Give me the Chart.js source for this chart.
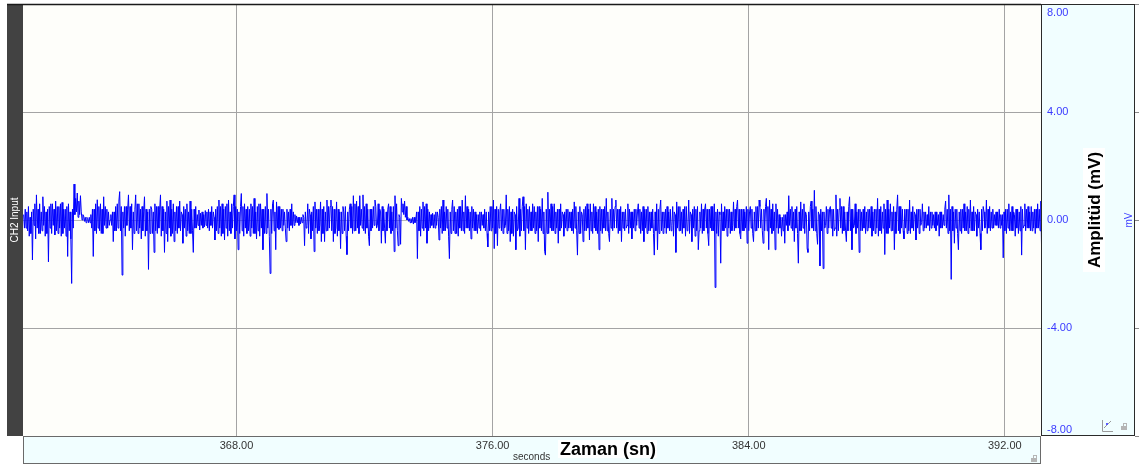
<!DOCTYPE html>
<html>
<head>
<meta charset="utf-8">
<script src="https://cdn.jsdelivr.net/npm/chart.js"></script>
<style>
    html, body {
        margin: 0;
        padding: 0;
        background: #ffffff;
    }
    #wrap {
        width: 1146px;
        height: 465px;
    }
</style>
</head>
<body>
<div id="wrap">
    <canvas id="emgChart" width="1146" height="465"></canvas>
</div>
<script>
// Time axis (seconds) and amplitude axis (mV) ticks
const timeTicks = [368, 376, 384, 392];
const ampTicks = [-8, -4, 0, 4, 8];
const timeRange = [361.33, 393.13];
const ampRange = [-8, 8];

const startTime = 361.35;
const sampleStep = 0.025;
const samples = [
    0.2,-0.3,0.4,-0.3, 0.3,-0.4,0.5,-0.6, 0.1,-0.5,0.3,-1.48, 0.4,-0.2,0.6,-0.7, 0.93,-0.3,0.4,-0.5, 0.6,-0.5,0.3,-0.4, 0.86,-0.2,0.5,-0.6, 0.3,-0.5,0.4,-1.55, 0.5,-0.3,0.6,-0.5, 0.6,-0.2,0.4,-0.55,
    0.7,-0.4,0.5,-0.5, 0.5,-0.3,0.6,-0.6, 0.65,-0.5,0.4,-0.3, 0.4,-0.6,0.5,-1.35, 0.6,-0.4,0.3,-0.7, -2.35,0.4,-0.3,1.33, 0.2,0.8,0.3,1.0, 0.1,0.7,0.2,0.9, 0.3,0.0,0.2,0.15, -0.05,0.1,-0.1,0.1,
    0.05,-0.1,0.1,-0.1, 0.2,-0.3,0.4,-1.35, 0.4,-0.4,0.6,-0.5, 0.75,-0.3,0.5,-0.4, 0.6,-0.5,0.4,-0.5, 0.86,-0.2,0.5,-0.3, 0.4,-0.3,0.3,-0.2, 0.0,0.2,-0.2,0.3, -0.8,0.3,-0.4,0.5, -0.4,0.6,-0.3,0.7,
    1.05,-0.4,0.5,-2.04, 0.3,-0.3,0.5,-0.6, 0.5,-0.2,0.4,0.93, -0.4,0.5,-0.3,0.6, -1.1,0.3,-0.5,0.4, 0.93,-0.4,0.6,-0.5, 0.6,-0.3,0.4,-0.7, 0.5,-0.4,0.3,0.86, -0.6,0.4,-0.4,0.3, -1.83,0.4,-0.5,0.5,
    0.4,-0.5,0.3,-1.2, 0.6,-0.4,0.5,-0.5, 0.5,-0.3,0.4,0.93, -0.6,0.5,-0.4,0.4, -1.2,0.3,-0.5,0.7, -0.8,0.5,-0.3,0.74, -0.6,0.4,-0.5,0.6, -0.8,0.3,-0.4,0.5, -0.5,0.5,-0.3,0.7, -0.4,0.3,0.2,-0.86,
    0.5,-0.3,0.4,-0.6, 0.6,-0.4,0.3,-0.5, 0.7,-0.5,0.4,-0.4, -1.2,0.4,-0.3,0.5, -0.3,0.2,-0.2,0.37, -0.37,0.25,-0.2,0.3, -0.3,0.2,-0.25,0.35, -0.2,0.3,-0.3,0.4, -0.4,0.3,-0.2,0.5, -0.3,0.3,0.1,-0.74,
    0.4,-0.4,0.5,-0.5, 0.74,-0.3,0.5,-0.6, 0.6,-0.5,0.4,-0.74, 0.5,-0.3,0.6,-0.6, 0.74,-0.4,0.3,-0.5, 0.6,-0.3,0.5,0.93, -0.7,0.5,-0.4,0.4, -1.1,0.3,-0.5,0.5, 0.98,-0.4,0.5,-0.6, 0.6,-0.3,0.4,-0.5,
    0.5,-0.4,0.4,-0.6, 0.6,-0.3,0.5,-0.5, 0.8,-0.5,0.3,-0.7, 0.5,-0.4,0.6,-0.6, 0.6,-0.3,0.4,-1.1, 0.4,-0.5,0.5,-0.5, 0.98,-0.3,0.4,-0.6, -1.98,0.4,-0.5,0.6, 0.74,-0.4,0.3,-1.1, 0.67,-0.3,0.5,-0.35,
    0.5,-0.3,0.4,-0.4, 0.4,-0.2,0.3,-0.3, -0.8,0.4,-0.3,0.3, -0.4,0.4,-0.2,0.6, -0.3,0.3,-0.2,0.2, -0.1,0.15,-0.1,0.1, -0.2,0.1,-0.15,0.1, -0.1,0.2,0.1,-0.95, 0.3,-0.3,-0.2,0.6, -0.5,0.4,0.2,-0.7,
    0.3,-0.4,0.5,-1.17, 0.67,-0.3,0.4,-0.5, 0.4,-0.4,-0.2,0.67, -0.8,0.4,-0.5,0.5, -0.8,0.3,-0.4,0.74, -0.4,0.5,-0.3,0.5, 0.74,-0.4,0.5,-0.8, 0.4,-0.5,-0.3,0.67, -0.6,0.4,-0.4,0.3, -1.06,0.3,-0.5,0.5,
    0.3,-0.4,0.5,-0.6, -1.28,0.3,-0.4,0.4, 0.6,-0.3,0.5,-0.5, 0.9,-0.4,0.6,-0.4, 0.7,-0.3,0.5,-0.5, 0.9,-0.2,0.4,-0.3, 0.93,-0.4,0.5,-0.5, 0.6,-0.3,0.4,-0.6, -0.95,0.4,-0.4,0.4, -0.3,0.5,-0.2,0.74,
    0.5,-0.3,-0.2,0.6, -0.4,0.4,0.3,-0.86, 0.5,-0.4,0.4,-0.3, -0.86,0.3,-0.4,0.4, 0.6,-0.3,0.5,-0.5, 0.3,-0.4,0.5,-1.17, 0.9,-0.3,0.6,-0.4, -0.95,0.2,0.1,-0.9, 0.8,0.3,0.6,0.2, 0.7,0.1,0.5,0.0,
    0.1,-0.05,0.05,-0.1, 0.05,-0.1,0.1,-0.15, 0.1,-0.1,0.0,0.3, -1.43,0.3,-0.4,0.5, -0.6,0.4,-0.3,0.67, -0.4,0.5,-0.3,0.6, -0.86,0.4,-0.4,0.3, -0.3,0.2,-0.2,0.25, -0.3,0.2,-0.3,0.3, -0.2,0.3,0.1,-0.74,
    0.4,-0.3,0.5,-0.5, 0.74,-0.4,0.3,-0.4, 0.5,-0.3,0.4,-0.6, -1.43,0.3,-0.5,0.4, 0.74,-0.4,0.5,-0.5, 0.3,-0.5,0.4,-0.6, 0.5,-0.3,0.5,-0.4, 0.74,-0.4,0.3,-0.5, 0.9,-0.3,0.5,-0.3, 0.4,-0.4,0.3,-0.7,
    0.5,-0.3,0.4,-0.4, 0.3,-0.4,0.2,-0.5, 0.2,-0.3,0.3,-0.4, 0.3,-0.2,0.2,-0.3, 0.4,-0.4,0.3,-0.5, -1.0,0.3,-0.4,0.5, -0.4,0.5,-0.3,0.74, -1.06,0.4,-0.5,0.5, -0.95,0.4,-0.3,0.3, 0.6,-0.4,0.4,-0.5,
    0.4,-0.3,-0.2,0.93, -0.5,0.4,-0.4,0.5, -0.8,0.3,-0.5,0.4, -0.6,0.3,0.2,-1.1, 0.5,-0.4,-0.3,0.8, -0.6,0.4,-0.4,0.5, 0.86,-0.4,0.5,-1.1, 0.6,-0.3,0.4,-0.5, 0.5,-0.4,0.3,-0.4, 0.6,-0.3,0.5,-0.5,
    0.3,-0.4,0.5,-0.8, 0.5,-0.3,0.4,-0.4, 0.8,-0.5,0.3,-1.17, -1.3,0.4,-0.5,1.03, -0.5,0.4,-0.3,0.6, -0.4,0.5,-0.4,0.6, -0.5,0.3,-0.3,0.4, -0.86,0.4,-0.4,0.6, -0.3,0.3,0.2,-0.6, 0.3,-0.3,0.4,-0.4,
    0.4,-0.3,0.3,-0.3, 0.3,-0.4,0.4,-0.5, 0.67,-0.3,0.5,-0.4, -1.3,0.3,-0.5,0.5, -0.5,0.3,0.2,-0.8, 0.4,-0.4,0.5,-0.4, 0.6,-0.3,0.4,-0.74, 0.6,-0.4,0.3,-0.5, 0.6,-0.3,0.5,-0.4, 0.3,-0.5,0.4,-1.1,
    0.5,-0.4,0.4,-0.5, 0.4,-0.3,0.5,-0.4, 0.8,-0.4,0.3,-0.5, -0.8,0.4,-0.3,0.8, -0.4,0.4,-0.3,0.5, 0.74,-0.3,0.4,-0.5, 0.4,-0.4,0.5,-0.8, 0.3,-0.3,0.3,-0.4, 0.4,-0.3,-0.2,0.6, -0.5,0.4,-0.3,0.3,
    -0.7,0.3,-0.3,0.4, -0.4,0.4,-0.2,0.3, 0.6,-0.3,0.4,-0.5, 0.3,-0.4,0.5,-0.8, 0.4,-0.3,0.4,-0.5, 0.5,-0.4,0.3,-0.4, 0.3,-0.3,0.4,-0.5, -1.3,0.3,-0.4,0.6, -1.1,0.4,-0.5,0.4, 0.74,-0.4,0.3,-0.5,
    0.3,-0.3,0.4,-0.5, 0.5,-0.3,0.3,-0.4, 0.4,-0.4,-0.2,0.5, -0.6,0.3,0.2,-1.2, 0.67,-0.3,0.5,-0.4, 0.5,-0.4,0.3,-0.5, 0.4,-0.3,0.5,-0.6, 0.5,-0.4,-0.3,0.74, -0.5,0.3,0.2,-0.8, 0.4,-0.3,0.5,-0.6,
    0.4,-0.4,0.5,-1.1, -0.4,0.3,-0.3,0.6, -0.5,0.4,-0.4,0.4, 0.6,-0.3,0.4,-0.5, -0.95,0.4,-0.3,0.5, -0.4,0.5,-0.4,0.6, -2.5,0.3,-0.5,0.4, -0.6,0.3,0.2,-1.6, 0.6,-0.4,0.3,-0.4, 0.5,-0.3,0.4,-0.6,
    0.4,-0.3,0.4,-0.5, 0.3,-0.4,-0.2,0.67, -0.4,0.4,-0.3,0.5, 0.74,-0.3,0.4,-0.5, -0.7,0.4,-0.4,0.4, -0.4,0.3,-0.3,0.5, -0.86,0.4,-0.4,0.3, 0.5,-0.3,0.4,-0.5, -0.8,0.3,-0.4,0.5, -0.4,0.5,-0.3,0.74,
    0.5,-0.3,0.4,-0.4, -0.86,0.4,-0.4,0.5, 0.8,-0.4,0.5,-1.1, 0.74,-0.3,0.4,-0.5, 0.6,-0.4,0.3,-1.1, 0.6,-0.3,0.4,-0.5, 0.2,-0.3,0.1,-0.6, 0.1,-0.4,0.2,-0.86, 0.2,-0.2,0.3,-0.4, 0.9,-0.2,0.4,-0.3,
    0.5,-0.4,0.3,-0.8, 0.4,-0.3,0.5,-0.5, -1.6,0.3,-0.4,0.67, -0.4,0.4,-0.3,0.6, -0.5,0.3,0.2,-1.06, -1.2,0.3,-0.4,0.5, 0.7,-0.3,0.4,-0.4, 1.1,-0.4,0.5,-0.5, -0.9,0.3,0.2,-1.7, 0.4,-0.4,0.3,-1.8,
    0.3,-0.3,-0.2,0.5, -0.5,0.4,-0.3,0.4, 0.5,-0.3,0.4,-0.6, 0.4,-0.4,-0.3,0.93, -0.6,0.4,-0.4,0.4, 0.8,-0.3,0.5,-0.5, 0.5,-0.4,0.3,-0.4, -0.8,0.3,-0.4,0.5, 0.86,-0.4,0.4,-1.1, 0.4,-0.3,-0.2,0.6,
    -0.5,0.3,-0.3,0.4, -1.2,0.4,-0.4,0.3, -0.4,0.4,-0.3,0.5, -0.5,0.3,-0.4,0.4, -0.3,0.4,-0.3,0.5, -0.6,0.3,-0.4,0.4, -0.5,0.4,-0.3,0.8, -0.6,0.4,-0.4,0.5, -0.5,0.3,-0.3,0.6, -1.28,0.4,-0.5,0.74,
    -0.5,0.4,-0.3,0.6, -0.4,0.3,-0.4,0.5, -1.1,0.3,-0.5,0.4, 0.93,-0.4,0.5,-0.5, 0.5,-0.3,0.4,-0.4, -0.7,0.4,-0.3,0.4, -0.5,0.4,-0.4,0.74, -0.5,0.3,-0.3,0.5, -0.4,0.3,0.2,-0.74, 0.4,-0.3,0.4,-0.5,
    0.4,-0.2,-0.1,0.6, -0.4,0.3,-0.3,0.3, -0.3,0.2,-0.2,0.5, -0.4,0.3,-0.3,0.3, -0.2,0.2,-0.3,0.3, -0.4,0.3,-0.2,0.2, -0.6,0.3,-0.3,0.3, -0.3,0.2,-0.2,0.4, 0.7,-0.3,0.4,-0.5, 0.93,-0.4,0.4,-2.2,
    0.5,-0.4,0.3,-0.86, 0.4,-0.3,0.4,-0.5, -1.1,0.3,-0.4,0.4, -0.5,0.4,-0.3,0.6, -0.4,0.3,-0.4,0.5, -0.5,0.4,-0.3,0.74, -0.4,0.3,-0.4,0.5, -0.4,0.3,0.2,-0.6, 0.4,-0.3,0.3,-0.5, -1.1,0.4,-0.4,0.5,
    0.3,-0.3,-0.2,0.74, -0.5,0.4,-0.3,0.5, -0.4,0.3,-0.3,0.4, -0.3,0.2,-0.2,0.3, -0.2,0.3,-0.3,0.4, -0.3,0.2,-0.2,0.2, -1.4,0.3,-0.4,0.4, -0.5,0.4,-0.3,0.6, -0.4,0.3,-0.4,0.5, -0.4,0.3,0.2,-0.6,
    0.4,-0.3,0.4,-0.5, 0.3,-0.4,0.5,-1.3, 0.4,-0.3,-0.2,0.6, -0.4,0.4,-0.3,0.5, -0.3,0.3,-0.4,0.5, -0.4,0.3,-0.3,0.4, -0.5,0.4,-0.3,0.6, -0.3,0.4,-0.4,0.7, -1.2,0.4,-0.3,0.7
];

const FONT = '"Liberation Sans", Arial, sans-serif';
const PANEL_BG = '#f1feff';

// Build the {x, y} points for the line
const points = samples.map((v, i) => ({ x: startTime + i * sampleStep, y: v }));

// Draws the panels around the plot and the decorations of the original software
const framePlugin = {
    id: 'frame',
    beforeDraw(chart) {
        const ctx = chart.ctx;
        const a = chart.chartArea;
        const yScale = chart.scales.y;
        ctx.save();
        ctx.fillStyle = '#ffffff';
        ctx.fillRect(0, 0, chart.width, chart.height);

        // dark channel bar on the left
        ctx.fillStyle = '#424242';
        ctx.fillRect(7, a.top, a.left - 7, a.bottom - a.top);

        // plot background
        ctx.fillStyle = '#fefefa';
        ctx.fillRect(a.left, a.top, a.right - a.left, a.bottom - a.top);

        // right axis panel
        ctx.fillStyle = PANEL_BG;
        ctx.fillRect(a.right, a.top, yScale.right - a.right, a.bottom - a.top);

        // bottom axis panel
        ctx.fillRect(a.left, a.bottom, a.right - a.left, 28);
        ctx.restore();
    },
    afterDraw(chart) {
        const ctx = chart.ctx;
        const a = chart.chartArea;
        const yScale = chart.scales.y;
        const panelRight = yScale.right;
        ctx.save();

        // frame lines
        ctx.strokeStyle = '#2a2a2a';
        ctx.lineWidth = 1;
        ctx.strokeRect(a.right + 0.5, a.top + 0.5, panelRight - a.right - 1, a.bottom - a.top - 1);
        ctx.strokeStyle = '#6a6a6a';
        ctx.strokeRect(a.left + 0.5, a.bottom + 0.5, a.right - a.left - 1, 27);
        ctx.strokeStyle = '#1a1a1a';
        ctx.lineWidth = 1.5;
        ctx.beginPath();
        ctx.moveTo(7, a.top + 0.5);
        ctx.lineTo(a.right, a.top + 0.5);
        ctx.stroke();

        // small tick marks on the outer edge of the right panel
        ctx.strokeStyle = '#8a8a8a';
        ctx.lineWidth = 1;
        ampTicks.forEach(v => {
            const py = Math.round(yScale.getPixelForValue(v)) + 0.5;
            ctx.beginPath();
            ctx.moveTo(panelRight, py);
            ctx.lineTo(panelRight + 4, py);
            ctx.stroke();
        });

        // amplitude tick labels (end labels kept inside the panel)
        ctx.fillStyle = '#3a3aff';
        ctx.font = '11px ' + FONT;
        ctx.textAlign = 'left';
        ctx.textBaseline = 'middle';
        ampTicks.forEach(v => {
            let py = yScale.getPixelForValue(v);
            py = Math.min(Math.max(py, a.top + 9), a.bottom - 6);
            ctx.fillText(v.toFixed(2), a.right + 6, py);
        });

        // "Amplitüd (mV)" title with white box
        ctx.translate(1094, 210);
        ctx.rotate(-Math.PI / 2);
        ctx.fillStyle = '#ffffff';
        ctx.fillRect(-62, -11, 124, 22);
        ctx.fillStyle = '#000000';
        ctx.font = 'bold 17px ' + FONT;
        ctx.textAlign = 'center';
        ctx.fillText('Amplitüd (mV)', 0, 1);
        ctx.setTransform(1, 0, 0, 1, 0, 0);

        // unit
        ctx.translate(1129, 220);
        ctx.rotate(-Math.PI / 2);
        ctx.fillStyle = '#3a3aff';
        ctx.font = '10px ' + FONT;
        ctx.fillText('mV', 0, 0);
        ctx.setTransform(1, 0, 0, 1, 0, 0);

        // channel label
        ctx.translate(15, 220);
        ctx.rotate(-Math.PI / 2);
        ctx.fillStyle = '#ffffff';
        ctx.font = '10px ' + FONT;
        ctx.fillText('CH2 Input', 0, 0);
        ctx.setTransform(1, 0, 0, 1, 0, 0);

        // x axis unit and title
        ctx.textAlign = 'left';
        ctx.fillStyle = '#333333';
        ctx.font = '10px ' + FONT;
        ctx.fillText('seconds', 513, 457);
        ctx.fillStyle = '#ffffff';
        ctx.fillRect(558, 440, 99, 18);
        ctx.fillStyle = '#000000';
        ctx.font = 'bold 18px ' + FONT;
        ctx.fillText('Zaman (sn)', 560, 450);

        // little axis / lock icons
        ctx.strokeStyle = '#9a9a9a';
        ctx.beginPath();
        ctx.moveTo(1102.5, 420); ctx.lineTo(1102.5, 431.5); ctx.lineTo(1113, 431.5);
        ctx.moveTo(1104, 428); ctx.lineTo(1111, 421);
        ctx.stroke();
        ctx.fillStyle = '#5a5aff';
        ctx.fillRect(1106, 423, 2, 2);
        ctx.fillStyle = '#b5b5b5';
        ctx.fillRect(1121, 426, 6, 4);
        ctx.fillRect(1031, 458, 6, 4);
        ctx.strokeStyle = '#b5b5b5';
        ctx.strokeRect(1123.5, 423.5, 3, 3);
        ctx.strokeRect(1033.5, 455.5, 3, 3);

        ctx.restore();
    }
};

const ctx = document.getElementById('emgChart').getContext('2d');
new Chart(ctx, {
    type: 'line',
    data: {
        datasets: [{
            label: 'CH2 Input',
            data: points,
            borderColor: '#0000ff',
            borderWidth: 1,
            pointRadius: 0,
            tension: 0,
            fill: false
        }]
    },
    options: {
        responsive: false,
        animation: false,
        normalized: true,
        layout: {
            padding: { left: 23, top: 4, right: 11, bottom: 1 }
        },
        plugins: {
            legend: { display: false },
            tooltip: { enabled: false }
        },
        scales: {
            x: {
                type: 'linear',
                position: 'bottom',
                min: timeRange[0],
                max: timeRange[1],
                afterBuildTicks: scale => {
                    scale.ticks = timeTicks.map(v => ({ value: v }));
                },
                afterFit: scale => { scale.height = 28; },
                grid: {
                    color: '#a4a4a4',
                    lineWidth: 1,
                    drawTicks: false
                },
                border: { display: false },
                ticks: {
                    autoSkip: false,
                    maxRotation: 0,
                    padding: 3,
                    color: '#333333',
                    font: { family: FONT, size: 11 },
                    callback: v => v.toFixed(2)
                }
            },
            y: {
                type: 'linear',
                position: 'right',
                min: ampRange[0],
                max: ampRange[1],
                afterBuildTicks: scale => {
                    scale.ticks = ampTicks.map(v => ({ value: v }));
                },
                afterFit: scale => { scale.width = 94; },
                grid: {
                    color: c => {
                        const v = c.tick.value;
                        if (v === 8 || v === -8) return 'rgba(0,0,0,0)';
                        return v === 0 ? '#b8b8b8' : '#a4a4a4';
                    },
                    lineWidth: 1,
                    drawTicks: false
                },
                border: { display: false },
                ticks: { display: false }
            }
        }
    },
    plugins: [framePlugin]
});
</script>
</body>
</html>
